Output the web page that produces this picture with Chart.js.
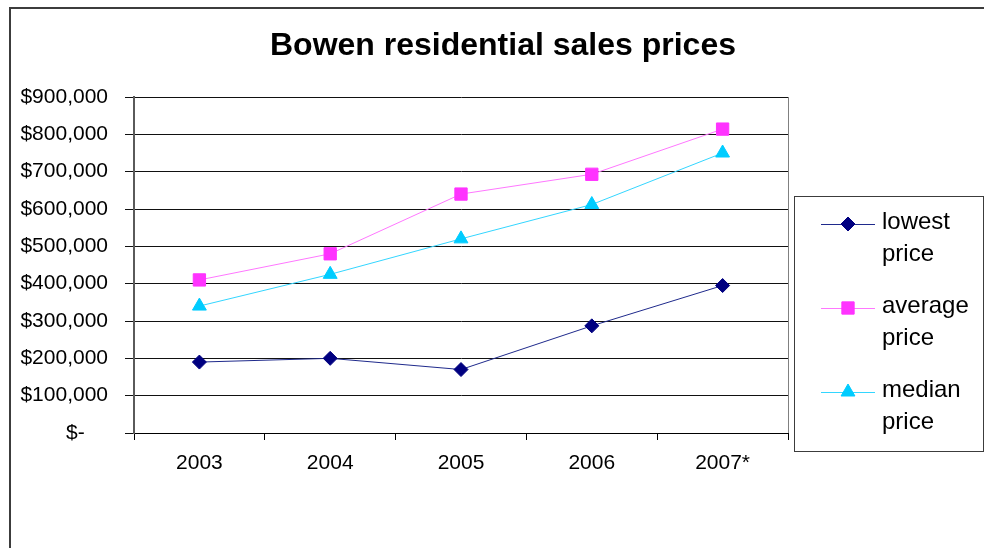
<!DOCTYPE html>
<html>
<head>
<meta charset="utf-8">
<script src="https://cdn.jsdelivr.net/npm/chart.js@4/dist/chart.umd.min.js"></script>
<style>
  html, body { margin: 0; padding: 0; background: #ffffff; }
  #wrap { width: 984px; height: 548px; position: relative; }
</style>
</head>
<body>
<div id="wrap"><canvas id="c" width="984" height="548"></canvas></div>
<script>
// ---- data ----
const chartTitle = 'Bowen residential sales prices';
const categories = ['2003', '2004', '2005', '2006', '2007*'];
const seriesNames = ['lowest price', 'average price', 'median price'];
const lowestPrice = [190000, 200000, 170000, 287000, 395000];
const averagePrice = [410000, 480000, 640000, 693000, 814000];
const medianPrice = [340000, 425000, 520000, 612000, 750000];
const yMin = 0, yMax = 900000, yStep = 100000;

const FONT = '"Liberation Sans", Arial, Helvetica, sans-serif';

const decorPlugin = {
  id: 'decor',
  beforeDraw(chart) {
    const ctx = chart.ctx;
    ctx.save();
    ctx.fillStyle = '#ffffff';
    ctx.fillRect(0, 0, chart.width, chart.height);
    // outer chart frame
    ctx.strokeStyle = '#3c3c3c';
    ctx.lineWidth = 2;
    ctx.strokeRect(10, 8, 1200, 800);
    ctx.restore();
  },
  afterDraw(chart) {
    const ctx = chart.ctx;
    const a = chart.chartArea;
    ctx.save();
    // plot area right border
    ctx.strokeStyle = '#808080';
    ctx.lineWidth = 1;
    ctx.beginPath();
    ctx.moveTo(Math.round(a.right) + 0.5, a.top);
    ctx.lineTo(Math.round(a.right) + 0.5, a.bottom);
    ctx.stroke();
    // title
    ctx.fillStyle = '#000000';
    ctx.font = 'bold 32px ' + FONT;
    ctx.textAlign = 'center';
    ctx.textBaseline = 'alphabetic';
    ctx.fillText(chartTitle, 503, 55);
    // legend box
    ctx.strokeStyle = '#3c3c3c';
    ctx.lineWidth = 1;
    ctx.strokeRect(794.5, 196.5, 189, 255);
    const rowY = [224, 308, 392];
    chart.data.datasets.forEach((ds, i) => {
      const y = rowY[i];
      ctx.strokeStyle = ds.borderColor;
      ctx.lineWidth = 1;
      ctx.beginPath();
      ctx.moveTo(821, y + 0.5);
      ctx.lineTo(875, y + 0.5);
      ctx.stroke();
      ctx.fillStyle = ds.pointBackgroundColor;
      ctx.strokeStyle = ds.pointBorderColor;
      Chart.helpers.drawPoint(ctx, {
        pointStyle: ds.pointStyle, rotation: 0,
        radius: ds.pointRadius, borderWidth: 1
      }, 848, y);
      ctx.fillStyle = '#000000';
      ctx.font = '24px ' + FONT;
      ctx.textAlign = 'left';
      ctx.textBaseline = 'middle';
      const words = ds.label.split(' ');
      words.forEach((w, k) => ctx.fillText(w, 882, y - 2 + k * 32));
    });
    ctx.restore();
  }
};

new Chart(document.getElementById('c'), {
  type: 'line',
  data: {
    labels: categories,
    datasets: [
      {
        label: seriesNames[0], data: lowestPrice,
        borderColor: '#1f2a8c', borderWidth: 1,
        pointStyle: 'rectRot', pointRadius: 7,
        pointBackgroundColor: '#000080', pointBorderColor: '#000080', pointBorderWidth: 1
      },
      {
        label: seriesNames[1], data: averagePrice,
        borderColor: '#ff77ff', borderWidth: 1,
        pointStyle: 'rect', pointRadius: 8.7,
        pointBackgroundColor: '#ff33ff', pointBorderColor: '#ff33ff', pointBorderWidth: 1
      },
      {
        label: seriesNames[2], data: medianPrice,
        borderColor: '#33d6ff', borderWidth: 1,
        pointStyle: 'triangle', pointRadius: 8,
        pointBackgroundColor: '#00ccff', pointBorderColor: '#00ccff', pointBorderWidth: 1
      }
    ]
  },
  options: {
    responsive: false,
    animation: false,
    devicePixelRatio: 1,
    layout: { padding: { top: 97, left: 0, right: 196, bottom: 65 } },
    plugins: {
      legend: { display: false },
      title: { display: false },
      tooltip: { enabled: false }
    },
    elements: { line: { tension: 0 } },
    scales: {
      x: {
        offset: true,
        afterFit(s) { s.height = 50; },
        grid: { offset: true, drawOnChartArea: false, drawTicks: true, tickLength: 7, color: '#000000', lineWidth: 1 },
        border: { display: true, color: '#000000', width: 1 },
        ticks: { color: '#000000', font: { family: FONT, size: 21 }, padding: 11, maxRotation: 0 }
      },
      y: {
        min: yMin, max: yMax,
        afterFit(s) { s.width = 134; },
        grid: { drawOnChartArea: true, drawTicks: true, tickLength: 9, color: '#111111', lineWidth: 1 },
        border: { display: true, color: '#5a5a5a', width: 2 },
        ticks: {
          stepSize: yStep,
          color: '#000000',
          font: { family: FONT, size: 21 },
          padding: 17,
          callback: v => v === 0 ? '$-    ' : '$' + v.toLocaleString('en-US')
        }
      }
    }
  },
  plugins: [decorPlugin]
});
</script>
</body>
</html>
